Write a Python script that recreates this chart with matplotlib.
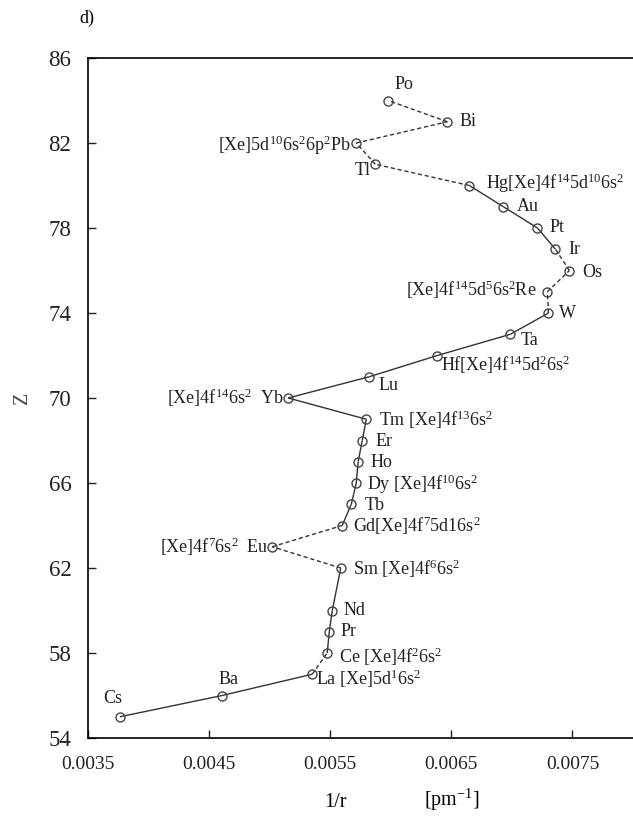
import matplotlib
matplotlib.use("Agg")
import matplotlib.pyplot as plt

plt.rcParams['font.family'] = ['Liberation Serif', 'DejaVu Serif']
plt.rcParams['mathtext.fontset'] = 'custom'
plt.rcParams['mathtext.rm'] = 'Liberation Serif'
plt.rcParams['mathtext.it'] = 'Liberation Serif:italic'
plt.rcParams['mathtext.default'] = 'rm'

# data
symbols = ['Cs', 'Ba', 'La', 'Ce', 'Pr', 'Nd', 'Sm', 'Eu', 'Gd', 'Tb', 'Dy', 'Ho', 'Er', 'Tm',
           'Yb', 'Lu', 'Hf', 'Ta', 'W', 'Re', 'Os', 'Ir', 'Pt', 'Au', 'Hg', 'Tl', 'Pb', 'Bi', 'Po']
z_values = [55, 56, 57, 58, 59, 60, 62, 63, 64, 65, 66, 67, 68, 69,
            70, 71, 72, 73, 74, 75, 76, 77, 78, 79, 80, 81, 82, 83, 84]
inv_r = [0.003764, 0.004607, 0.005351, 0.005475, 0.005492, 0.005517, 0.005587, 0.005021,
         0.005599, 0.005674, 0.005715, 0.005731, 0.005764, 0.005798, 0.005153, 0.005822,
         0.006384, 0.006988, 0.007302, 0.007293, 0.007475, 0.007360, 0.007211, 0.006930,
         0.006649, 0.005872, 0.005715, 0.006467, 0.005979]
# True = solid link to next element, False = dashed
solid_link = [True, True, False, True, True, True, False, False, True, True, True, True, True,
              True, True, True, True, True, False, False, False, True, True, True,
              False, False, False, False]
labels = {
    'Cs': 'Cs', 'Ba': 'Ba', 'La': 'La [Xe]5d$^1$6s$^2$', 'Ce': 'Ce [Xe]4f$^2$6s$^2$',
    'Pr': 'Pr', 'Nd': 'Nd', 'Sm': 'Sm [Xe]4f$^6$6s$^2$', 'Eu': '[Xe]4f$^7$6s$^2$  Eu',
    'Gd': 'Gd[Xe]4f$^7$5d16s$^2$', 'Tb': 'Tb', 'Dy': 'Dy [Xe]4f$^{10}$6s$^2$', 'Ho': 'Ho',
    'Er': 'Er', 'Tm': 'Tm [Xe]4f$^{13}$6s$^2$', 'Yb': '[Xe]4f$^{14}$6s$^2$  Yb', 'Lu': 'Lu',
    'Hf': 'Hf[Xe]4f$^{14}$5d$^2$6s$^2$', 'Ta': 'Ta', 'W': 'W',
    'Re': '[Xe]4f$^{14}$5d$^5$6s$^2$Re', 'Os': 'Os', 'Ir': 'Ir', 'Pt': 'Pt', 'Au': 'Au',
    'Hg': 'Hg[Xe]4f$^{14}$5d$^{10}$6s$^2$', 'Tl': 'Tl', 'Pb': '[Xe]5d$^{10}$6s$^2$6p$^2$Pb',
    'Bi': 'Bi', 'Po': 'Po',
}

# label placement: (dx, dy) in pixels, horizontal alignment
label_pos = {
    'Cs': (-7, 18, 'center'), 'Ba': (6, 16, 'center'), 'La': (4, -5, 'left'),
    'Ce': (12, -4, 'left'), 'Pr': (11, 0, 'left'), 'Nd': (11, 0, 'left'),
    'Sm': (12, -1, 'left'), 'Eu': (-4, 0, 'right'), 'Gd': (11, 0, 'left'),
    'Tb': (13, -1, 'left'), 'Dy': (11, -1, 'left'), 'Ho': (12, -1, 'left'),
    'Er': (13, -1, 'left'), 'Tm': (13, -1, 'left'), 'Yb': (-5, 0, 'right'),
    'Lu': (9, -9, 'left'), 'Hf': (4, -9, 'left'), 'Ta': (10, -6, 'left'),
    'W': (11, 0, 'left'), 'Re': (-11, 2, 'right'), 'Os': (13, -2, 'left'),
    'Ir': (13, 0, 'left'), 'Pt': (12, 1, 'left'), 'Au': (13, 0, 'left'),
    'Hg': (17, 2, 'left'), 'Tl': (-5, -6, 'right'), 'Pb': (-6, -2, 'right'),
    'Bi': (12, 0, 'left'), 'Po': (16, 16, 'center'),
}

fig = plt.figure(figsize=(6.33, 8.21), dpi=100)
ax = fig.add_axes([88 / 633, 83 / 821, 545 / 633, 680 / 821])

line_col = '#333333'
for i, solid in enumerate(solid_link):
    xs = inv_r[i:i + 2]
    ys = z_values[i:i + 2]
    if solid:
        ax.plot(xs, ys, color=line_col, lw=1.0, solid_capstyle='butt')
    else:
        ax.plot(xs, ys, color=line_col, lw=1.0, linestyle=(0, (3, 2)))

ax.plot(inv_r, z_values, linestyle='none', marker='o', ms=6.5, mfc='none',
        mec='#444444', mew=1.0)

for s, x, z in zip(symbols, inv_r, z_values):
    dx, dy, ha = label_pos[s]
    ax.annotate(labels[s], (x, z), xytext=(dx, dy), textcoords='offset pixels',
                ha=ha, va='center', fontsize=13, color='#222222')

ax.set_xlim(0.0035, 0.0080)
ax.set_ylim(54, 86)
ax.set_xticks([0.0035, 0.0045, 0.0055, 0.0065, 0.0075])
ax.set_xticklabels(['0.0035', '0.0045', '0.0055', '0.0065', '0.0075'])
ax.set_yticks(range(54, 87, 4))
ax.tick_params(direction='in', length=6, width=1.0, colors='#222222')
ax.tick_params(axis='x', pad=13, labelsize=14)
ax.tick_params(axis='y', pad=12, labelsize=16.5)
for side in ['left', 'bottom', 'top']:
    ax.spines[side].set_linewidth(1.2)
ax.spines['right'].set_visible(False)

ax.text(-0.121, 70, 'Z', transform=ax.get_yaxis_transform(), rotation=90,
        ha='center', va='center', fontsize=14.5, color='#444444')
fig.text(335 / 633, 1 - 802 / 821, '1/r', ha='center', va='center', fontsize=14.5)
fig.text(452 / 633, 1 - 800 / 821, '[pm$^{-1}$]', ha='center', va='center', fontsize=14.5)
fig.text(87 / 633, 1 - 18 / 821, 'd)', ha='center', va='center', fontsize=13)

fig.savefig('out.png', dpi=100)
